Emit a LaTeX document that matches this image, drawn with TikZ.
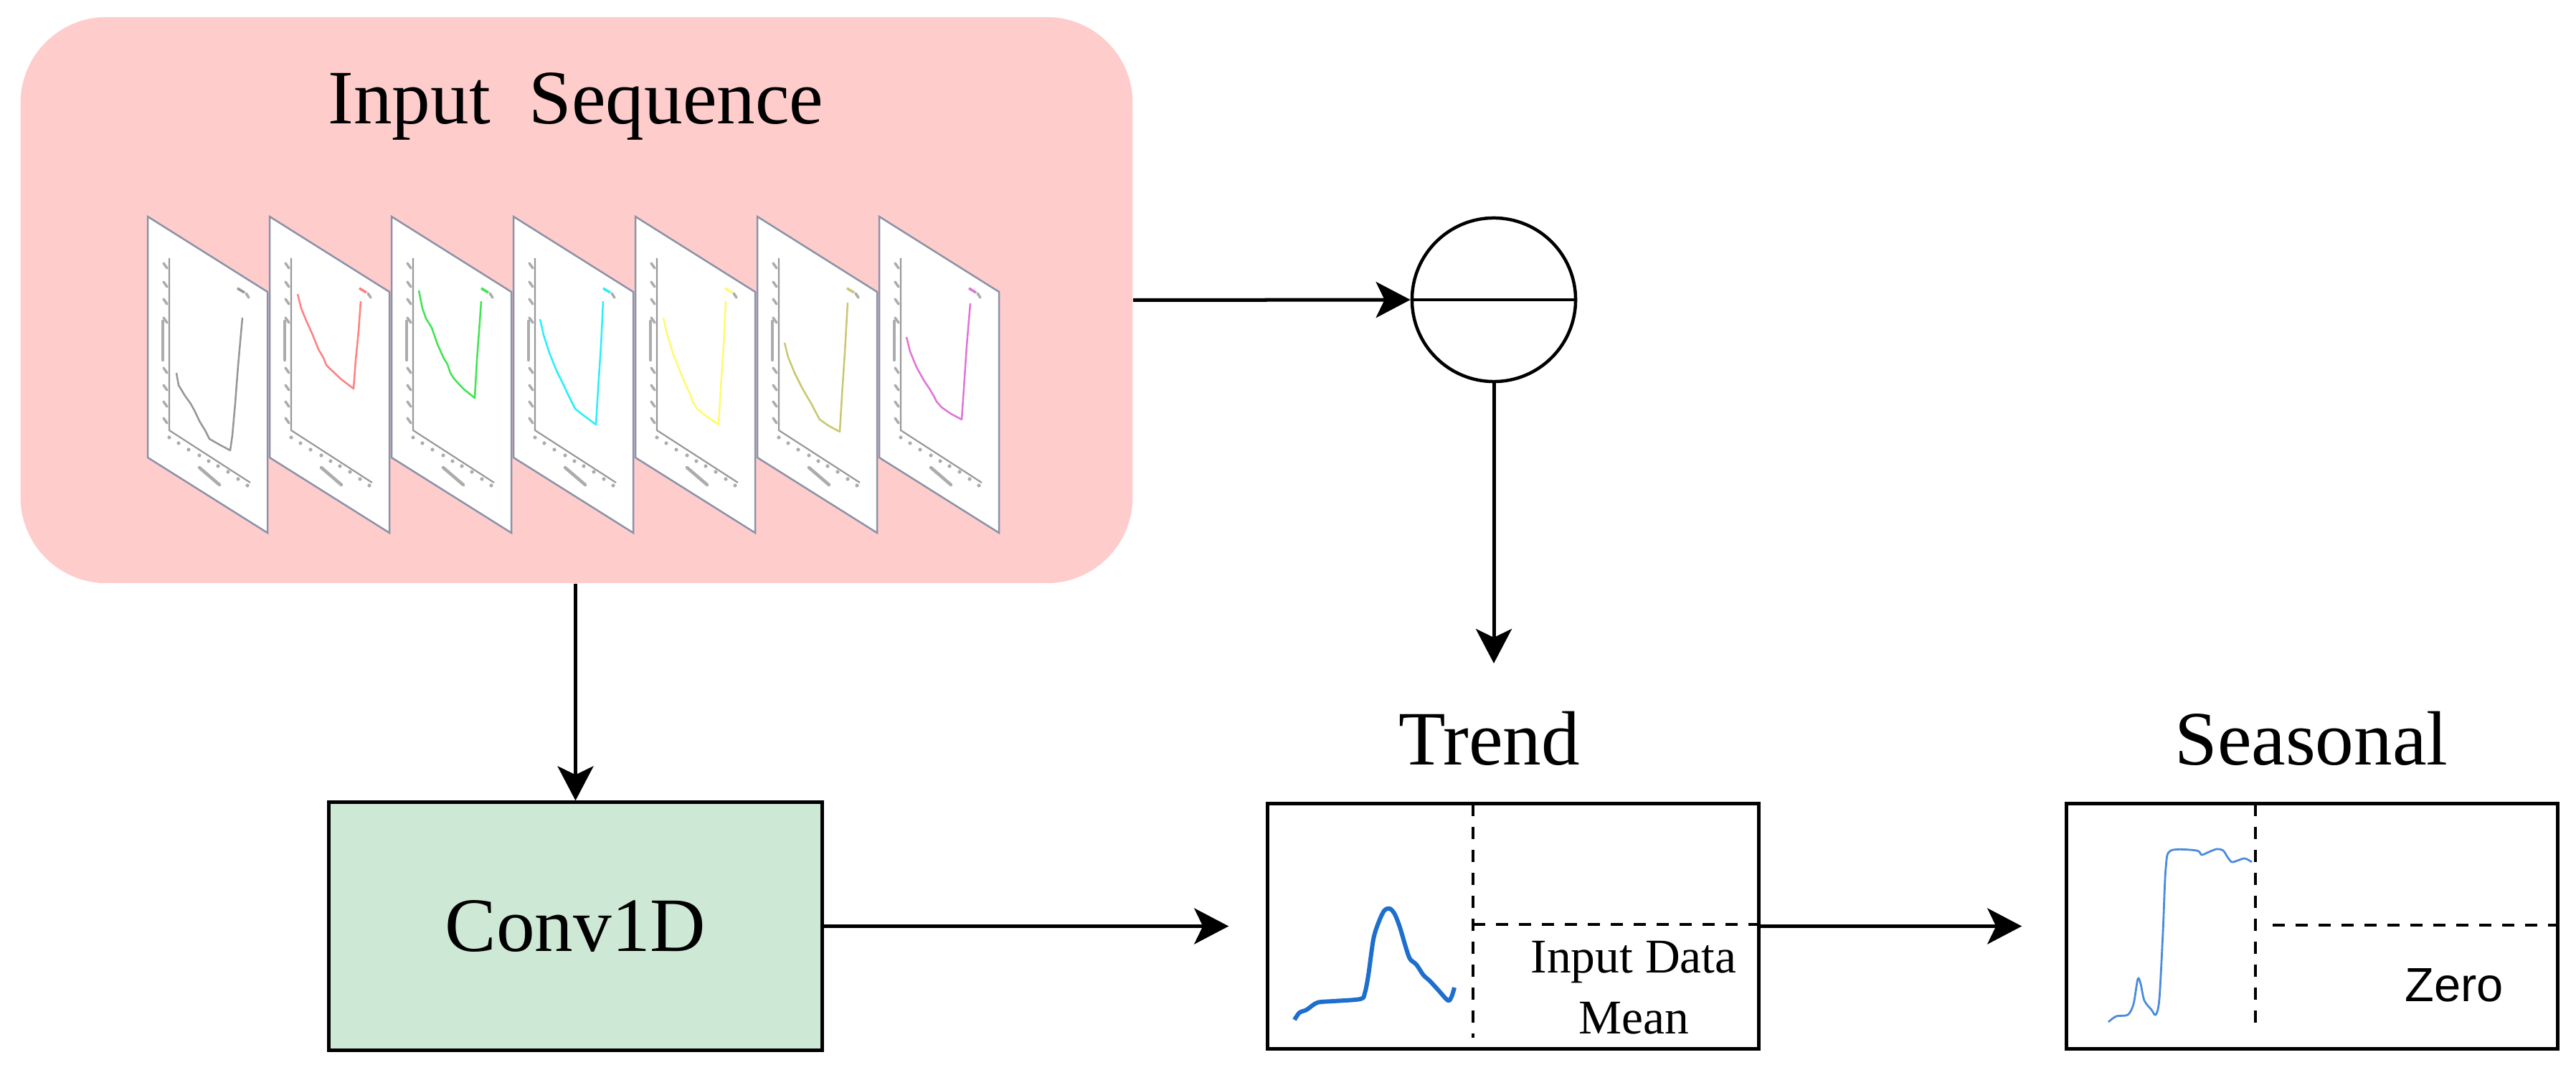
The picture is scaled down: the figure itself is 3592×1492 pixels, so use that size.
\documentclass[tikz,border=0pt]{standalone}
\usepackage{fontspec}
\setmainfont{Liberation Serif}
\newfontfamily\sansf{Liberation Sans}
\usetikzlibrary{arrows.meta,calc}
\definecolor{pinkbg}{RGB}{255,204,204}
\definecolor{convgreen}{RGB}{205,233,213}
\definecolor{slideedge}{RGB}{138,147,168}
\definecolor{trendblue}{RGB}{30,111,205}
\definecolor{seasblue}{RGB}{74,139,222}
\definecolor{cgray}{RGB}{150,150,150}
\definecolor{cred}{RGB}{255,128,128}
\definecolor{cgreen}{RGB}{64,228,80}
\definecolor{ccyan}{RGB}{40,240,250}
\definecolor{cyellow}{RGB}{255,250,110}
\definecolor{colive}{RGB}{200,200,110}
\definecolor{cmag}{RGB}{225,115,215}
\tikzset{
  bigfont/.style={font=\fontsize{30.5}{36}\selectfont},
  smallfont/.style={font=\fontsize{19.2}{24.2}\selectfont},
  boxstyle/.style={draw=black, line width=0.05cm, inner sep=0pt},
  arr/.style={line width=0.05cm, -{Stealth[length=0.48cm,width=0.5cm,inset=0.12cm]}},
  dashln/.style={line width=0.04cm, dash pattern=on 0.17cm off 0.15cm},
  edgeln/.style={draw=slideedge, line width=0.025cm},
  axisln/.style={draw=gray!80, line width=0.022cm},
  ticklab/.style={draw=gray!65, line width=0.035cm, line cap=round},
  curveln/.style={line width=0.025cm, line join=round},
}
\newcommand{\slidepanel}[3]{%
  \begin{scope}[shift={(#1,302)}]
    \fill[white] (0,0) -- (167,105) -- (167,441) -- (0,336) -- cycle;
    \draw[edgeln] (0,0) -- (167,105) -- (167,441) -- (0,336) -- cycle;
    \draw[axisln] (30,58) -- (30,298) -- (143,371);
    \foreach \yy in {65,91,115,141,211,235,258,281} \draw[ticklab] (22,\yy) -- (27,\yy+7);
    \draw[ticklab, line width=0.045cm] (21,146) -- (21,200);
    \foreach \xx/\yy in {30/308,43/316,57/325,72/333,85/341,98/348,112/356,126/366,139/375}
      \fill[gray!65] (\xx,\yy) circle[radius=0.026cm];
    \draw[ticklab, line width=0.045cm] (72,350) -- (100,374);
    \draw[#2, curveln] plot coordinates {#3};
    \draw[#2, line width=0.035cm] (125,100) -- (135,106);
    \draw[ticklab] (137,107) -- (141,113);
  \end{scope}}
\begin{document}
\begin{tikzpicture}[x=0.01cm, y=-0.01cm]
\useasboundingbox (0,0) rectangle (3592,1492);
% input sequence container
\node[fill=pinkbg, rounded corners=1.2cm, minimum width=15.5cm, minimum height=7.89cm, inner sep=0pt] (input) at (804,418.5) {};
\node[bigfont, anchor=base] (inputttl) at (803,173) {Input\ \ Sequence};
% slides
\slidepanel{206}{cgray}{(40,218) (43,235) (52,250) (60,261) (66,272) (72,285) (80,298) (86,310) (100,318) (115,326) (118,305) (122,260) (126,208) (132,141)}
\slidepanel{376}{cred}{(39,108) (44,128) (51,145) (60,165) (68,185) (75,197) (79,207) (85,213) (100,227) (117,240) (120,200) (124,160) (127,118)}
\slidepanel{546}{cgreen}{(38,103) (43,128) (48,142) (56,155) (64,178) (73,198) (78,206) (82,218) (87,226) (100,240) (116,253) (119,200) (122,160) (125,118)}
\slidepanel{716}{ccyan}{(37,143) (42,165) (50,190) (60,215) (70,235) (76,248) (80,256) (86,268) (100,279) (115,290) (118,240) (122,180) (125,118)}
\slidepanel{886}{cyellow}{(39,141) (44,163) (52,190) (62,215) (70,234) (76,247) (80,258) (86,268) (100,279) (116,290) (119,240) (123,180) (126,118)}
\slidepanel{1056}{colive}{(38,176) (43,196) (52,218) (62,238) (70,252) (76,262) (80,270) (87,283) (100,292) (115,300) (118,250) (122,190) (126,120)}
\slidepanel{1226}{cmag}{(38,168) (43,188) (52,210) (62,228) (70,240) (76,250) (80,258) (87,266) (100,275) (115,283) (118,240) (122,180) (127,121)}
% subtraction circle
\node[draw=black, line width=0.045cm, circle, minimum size=2.28cm, inner sep=0pt] (circ) at (2083,418) {};
\draw[line width=0.045cm] (circ.west) -- (circ.east);
\coordinate (trendin) at (2083,925);
% conv1d
\node[boxstyle, fill=convgreen, minimum width=6.87cm, minimum height=3.45cm, bigfont] (conv) at (802.5,1291.5) {Conv1D};
% trend box
\node[boxstyle, minimum width=6.84cm, minimum height=3.41cm] (trend) at (2110,1291.5) {};
\node[bigfont, anchor=base] (trendttl) at (2077,1067) {Trend};
\draw[dashln] (2054,1121) -- (2054,1447);
\draw[dashln] (2054,1289) -- (trend.east |- 0,1289);
\node[smallfont, align=center, inner sep=0pt] (mean) at (2278,1377) {Input Data\\Mean};
\draw[trendblue, line width=0.06cm, line join=round] plot[smooth, tension=0.5] coordinates {(1805,1422) (1812,1412) (1822,1408) (1837,1398) (1860,1396) (1897,1393) (1903,1385) (1908,1360) (1915,1310) (1922,1287) (1930,1270) (1938,1267) (1945,1275) (1952,1293) (1960,1320) (1966,1337) (1975,1345) (1985,1360) (1993,1367) (2005,1380) (2019,1395) (2024,1390) (2028,1377)};
% seasonal box
\node[boxstyle, minimum width=6.84cm, minimum height=3.41cm] (seas) at (3224,1291.5) {};
\node[bigfont, anchor=base] (seasttl) at (3223,1067) {Seasonal};
\draw[dashln] (3145,1121) -- (3145,1433);
\draw[dashln] (3169,1290) -- (seas.east |- 0,1290);
\node[font=\sansf\fontsize{19}{23}\selectfont, anchor=base] (zero) at (3422,1397) {Zero};
\draw[seasblue, line width=0.028cm, line join=round] plot[smooth, tension=0.5] coordinates {(2940,1425) (2951,1417) (2967,1415) (2975,1400) (2981,1365) (2985,1372) (2990,1395) (3000,1408) (3006,1415) (3011,1393) (3016,1300) (3020,1210) (3027,1186) (3063,1186) (3070,1192) (3080,1188) (3091,1184) (3100,1186) (3106,1195) (3112,1202) (3120,1200) (3130,1197) (3140,1202)};
% connectors
\draw[arr] (input.east) -- (circ.west);
\draw[arr] (circ.south) -- (trendin);
\draw[arr] (input.south -| conv.north) -- (conv.north);
\draw[arr, shorten >=0.52cm] (conv.east) -- (trend.west);
\draw[arr, shorten >=0.6cm] (trend.east) -- (seas.west);
\end{tikzpicture}
\end{document}
